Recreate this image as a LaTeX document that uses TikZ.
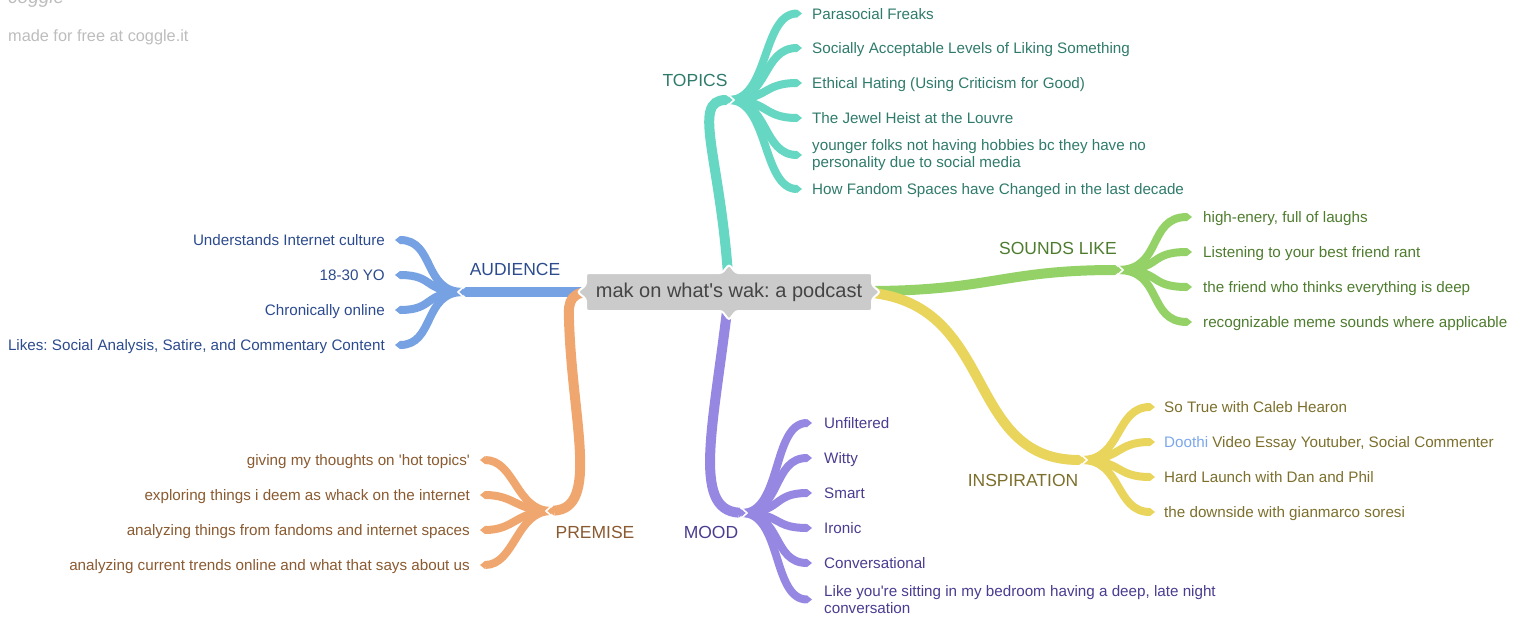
\documentclass[tikz,border=0pt]{standalone}
\usepackage{fontspec}
\setmainfont{Liberation Sans}
\usetikzlibrary{arrows.meta}
\AtBeginDocument{\frenchspacing}
\definecolor{topB}{HTML}{66D7C2}\definecolor{topT}{HTML}{2F7B6B}
\definecolor{audB}{HTML}{76A1E2}\definecolor{audT}{HTML}{2C4B8E}
\definecolor{preB}{HTML}{EFA76F}\definecolor{preT}{HTML}{8A5A30}
\definecolor{mooB}{HTML}{9688E2}\definecolor{mooT}{HTML}{4A3C90}
\definecolor{souB}{HTML}{94D267}\definecolor{souT}{HTML}{4E7C2E}
\definecolor{insB}{HTML}{E9D45C}\definecolor{insT}{HTML}{7C6F2C}
\definecolor{doothi}{HTML}{7BA7EC}
\definecolor{rootF}{HTML}{CBCBCB}\definecolor{rootT}{HTML}{454545}
\definecolor{logoC}{HTML}{BDBDBD}
\tikzset{
  mainbr/.style={line width=10pt, line cap=butt, -{Triangle[length=6pt,width=10pt,line width=0pt]}},
  subbr/.style={line width=8pt, line cap=butt, -{Triangle[length=5pt,width=8pt,line width=0pt]}},
  notch/.style={draw=white, line width=1.6pt, line join=miter},
  item/.style={inner sep=0pt, font=\fontsize{15.2}{17}\selectfont, align=left},
  lbl/.style={inner sep=0pt, font=\fontsize{17.5}{20}\selectfont},
}
\newcommand\notchR[1]{\draw[notch] ([shift={(-4,-5.5)}]#1) -- ([shift={(2,0)}]#1) -- ([shift={(-4,5.5)}]#1);}
\newcommand\notchL[1]{\draw[notch] ([shift={(4,-5.5)}]#1) -- ([shift={(-2,0)}]#1) -- ([shift={(4,5.5)}]#1);}
\begin{document}
\begin{tikzpicture}[x=1pt,y=-1pt]
\useasboundingbox (0,0) rectangle (1525,621);
% logo
\node[anchor=base west, inner sep=0pt, text=logoC, font=\fontsize{19}{19}\selectfont\itshape] (logo) at (8,4) {coggle};
\node[anchor=base west, inner sep=0pt, text=logoC, font=\fontsize{16.3}{18}\selectfont] (made) at (8,41) {made for free at coggle.it};

% root
\node[inner sep=0pt, text=rootT, font=\fontsize{20}{22}\selectfont] (root) at (729,292) {\phantom{mak on what\textquotesingle s wak: a podcast}};

% hubs
\coordinate (hT) at (732,100);
\coordinate (hS) at (1121,270);
\coordinate (hI) at (1085,460);
\coordinate (hM) at (745,513);
\coordinate (hA) at (460,292);
\coordinate (hP) at (548,511);

% labels
\node[lbl, text=topT] (lT) at (695,80) {TOPICS};
\node[lbl, text=souT] (lS) at (1058,248) {SOUNDS LIKE};
\node[lbl, text=insT] (lI) at (1023,480) {INSPIRATION};
\node[lbl, text=mooT] (lM) at (711,532) {MOOD};
\node[lbl, text=audT] (lA) at (515,269) {AUDIENCE};
\node[lbl, text=preT] (lP) at (595,532) {PREMISE};

% items: topics (single-line: base anchor at centre + 5.5)
\node[item, anchor=base west, text=topT] (t1) at (812,19) {Parasocial Freaks};
\node[item, anchor=base west, text=topT] (t2) at (812,53.5) {Socially Acceptable Levels of Liking Something};
\node[item, anchor=base west, text=topT] (t3) at (812,88.5) {Ethical Hating (Using Criticism for Good)};
\node[item, anchor=base west, text=topT] (t4) at (812,123.5) {The Jewel Heist at the Louvre};
\node[item, anchor=west, text=topT] (t5) at (812,155) {younger folks not having hobbies bc they have no\\personality due to social media};
\node[item, anchor=base west, text=topT] (t6) at (812,194.5) {How Fandom Spaces have Changed in the last decade};
% sounds like
\node[item, anchor=base west, text=souT] (s1) at (1203,222.5) {high-enery, full of laughs};
\node[item, anchor=base west, text=souT] (s2) at (1203,257.5) {Listening to your best friend rant};
\node[item, anchor=base west, text=souT] (s3) at (1203,292.5) {the friend who thinks everything is deep};
\node[item, anchor=base west, text=souT] (s4) at (1203,327.5) {recognizable meme sounds where applicable};
% inspiration
\node[item, anchor=base west, text=insT] (i1) at (1164,412.5) {So True with Caleb Hearon};
\node[item, anchor=base west, text=insT] (i2) at (1164,447.5) {{\color{doothi}Doothi} Video Essay Youtuber, Social Commenter};
\node[item, anchor=base west, text=insT] (i3) at (1164,482.5) {Hard Launch with Dan and Phil};
\node[item, anchor=base west, text=insT] (i4) at (1164,517.5) {the downside with gianmarco soresi};
% mood
\node[item, anchor=base west, text=mooT] (m1) at (824,428.5) {Unfiltered};
\node[item, anchor=base west, text=mooT] (m2) at (824,463.5) {Witty};
\node[item, anchor=base west, text=mooT] (m3) at (824,498.5) {Smart};
\node[item, anchor=base west, text=mooT] (m4) at (824,533.5) {Ironic};
\node[item, anchor=base west, text=mooT] (m5) at (824,568.5) {Conversational};
\node[item, anchor=west, text=mooT] (m6) at (824,599.5) {Like you\textquotesingle re sitting in my bedroom having a deep, late night\\conversation};
% audience
\node[item, anchor=base east, text=audT] (a1) at (385,245.5) {Understands Internet culture};
\node[item, anchor=base east, text=audT] (a2) at (385,280.5) {18-30 YO};
\node[item, anchor=base east, text=audT] (a3) at (385,315.5) {Chronically online};
\node[item, anchor=base east, text=audT] (a4) at (385,350.5) {Likes: Social Analysis, Satire, and Commentary Content};
% premise
\node[item, anchor=base east, text=preT] (p1) at (470,465.5) {giving my thoughts on \textquotesingle hot topics\textquotesingle};
\node[item, anchor=base east, text=preT] (p2) at (470,500.5) {exploring things i deem as whack on the internet};
\node[item, anchor=base east, text=preT] (p3) at (470,535.5) {analyzing things from fandoms and internet spaces};
\node[item, anchor=base east, text=preT] (p4) at (470,570.5) {analyzing current trends online and what that says about us};

% ---- children branches
\foreach \n in {t1,t2,t3,t4,t6}
  \draw[subbr, topB] ([xshift=-3pt]hT) .. controls +(40,0) and +(-40,0) .. ([shift={(-10,-5.5)}]\n.base west);
\draw[subbr, topB] ([xshift=-3pt]hT) .. controls +(40,0) and +(-40,0) .. ([xshift=-10pt]t5.west);
\foreach \n in {s1,s2,s3,s4}
  \draw[subbr, souB] ([xshift=-3pt]hS) .. controls +(45,0) and +(-45,0) .. ([shift={(-11,-5.5)}]\n.base west);
\foreach \n in {i1,i2,i3,i4}
  \draw[subbr, insB] ([xshift=-3pt]hI) .. controls +(40,0) and +(-40,0) .. ([shift={(-9,-5.5)}]\n.base west);
\foreach \n in {m1,m2,m3,m4,m5}
  \draw[subbr, mooB] ([xshift=-3pt]hM) .. controls +(40,0) and +(-40,0) .. ([shift={(-12,-5.5)}]\n.base west);
\draw[subbr, mooB] ([xshift=-3pt]hM) .. controls +(40,0) and +(-40,0) .. ([xshift=-12pt]m6.west);
\foreach \n in {a1,a2,a3,a4}
  \draw[subbr, audB] ([xshift=3pt]hA) .. controls +(-40,0) and +(40,0) .. ([shift={(10,-5.5)}]\n.base east);
\foreach \n in {p1,p2,p3,p4}
  \draw[subbr, preB] ([xshift=3pt]hP) .. controls +(-35,0) and +(35,0) .. ([shift={(10,-5.5)}]\n.base east);

% ---- main branches
\draw[mainbr, topB] (root.north) ++(0,8) .. controls (722,160) and (690,100) .. (hT);
\draw[mainbr, souB] (root.east) ++(-5,-1) .. controls (990,292) and (1000,270) .. (hS);
\draw[mainbr, insB] (root.east) ++(-5,0) .. controls (1000,295) and (960,460) .. (hI);
\draw[mainbr, mooB] (root.south) ++(0,-8) .. controls (715,420) and (690,510) .. (hM);
\draw[mainbr, audB] (root.west) ++(5,0) -- (hA);
\draw[mainbr, preB] (root.west) ++(3,-1) .. controls (570,291) and (568,300) .. (569,320)
   .. controls (572,420) and (600,508) .. (hP);

% notches
\notchR{hT}\notchR{hS}\notchR{hI}\notchR{hM}\notchL{hA}\notchL{hP}

% root box
\filldraw[fill=rootF, draw=white, line width=2pt, rounded corners=2.5pt]
  (586,273) -- (722,273) -- (729,264.5) -- (736,273) -- (872,273) -- (872,285) -- (880,292)
  -- (872,299) -- (872,311) -- (736,311) -- (729,320) -- (722,311) -- (586,311) -- (586,299)
  -- (577.5,292) -- (586,285) -- cycle;
\node[inner sep=0pt, text=rootT, font=\fontsize{20}{22}\selectfont] (rootlabel) at (root) {mak on what\textquotesingle s wak: a podcast};
\end{tikzpicture}
\end{document}
